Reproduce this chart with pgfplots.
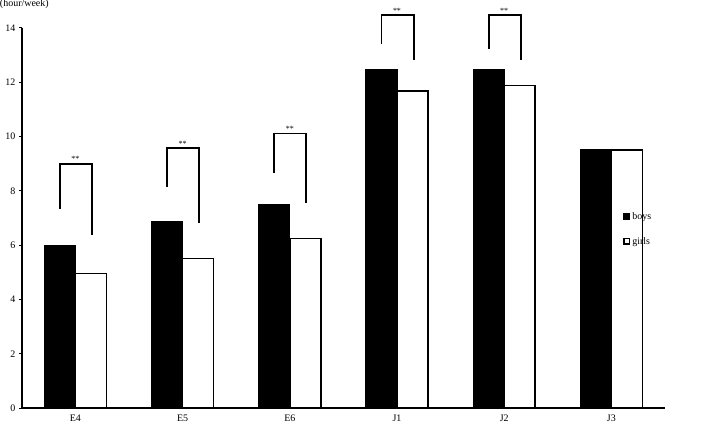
\documentclass[border=0pt]{standalone}
\usepackage{pgfplots}
\pgfplotsset{compat=1.18}
\usepackage{fontspec}
\setmainfont{Liberation Serif}

% weekly hours, boys vs girls, by grade
\pgfplotstableread{
x  boys   girls
0  6.00   4.95
1  6.88   5.50
2  7.51   6.25
3  12.47  11.67
4  12.47  11.88
5  9.52   9.50
}\hours

\begin{document}
\begin{tikzpicture}[font=\fontsize{10}{12}\selectfont]
\begin{axis}[
    name=ax,
    scale only axis,
    width=643bp, height=380bp,
    xmin=-0.5, xmax=5.5,
    ymin=0, ymax=14,
    axis x line*=bottom,
    axis y line*=left,
    axis line style={line width=1.7pt},
    ytick={0,2,...,14},
    xtick={0,...,5},
    xticklabels={E4,E5,E6,J1,J2,J3},
    x tick style={draw=none},
    y tick style={line width=1pt,black},
    tick align=outside,
    major tick length=3bp,
    clip=false,
    /pgf/number format/assume math mode=true,
    legend cell align=left,
    legend style={draw=none, fill=none, at={(0.935,0.47)}, anchor=west,
        row sep=12bp, inner sep=0pt},
    legend image code/.code={\draw[#1, line width=1.4pt] (0.7bp,-2.6bp) rectangle (6.3bp,3bp);},
]
\addplot[ybar, bar width=31bp, bar shift=-15.5bp, fill=black, draw=black, line width=1pt]
    table[x=x, y=boys] {\hours};
\addlegendentry{boys}
\addplot[ybar, bar width=31bp, bar shift=15.5bp, fill=white, draw=black, line width=1.5pt]
    table[x=x, y=girls] {\hours};
\addlegendentry{girls}

% significance brackets
\addplot[sharp plot, no marks, line width=1.9pt, forget plot] coordinates {(-0.145,7.34) (-0.145,9.0) (0.155,9.0) (0.155,6.38)};
\addplot[sharp plot, no marks, line width=1.9pt, forget plot] coordinates {(0.855,8.15) (0.855,9.58) (1.155,9.58) (1.155,6.82)};
\addplot[sharp plot, no marks, line width=1.9pt, forget plot] coordinates {(1.855,8.65) (1.855,10.11) (2.155,10.11) (2.155,7.55)};
\addplot[sharp plot, no marks, line width=1.9pt, forget plot] coordinates {(2.855,13.40) (2.855,14.47) (3.155,14.47) (3.155,12.82)};
\addplot[sharp plot, no marks, line width=1.9pt, forget plot] coordinates {(3.855,13.22) (3.855,14.47) (4.155,14.47) (4.155,12.83)};

\foreach \xx/\yy in {0/9.0, 1/9.58, 2/10.11, 3/14.47, 4/14.47} {
    \edef\tmp{\noexpand\node[anchor=south, font=\noexpand\fontsize{8}{9}\noexpand\selectfont, inner sep=1.5bp]
        at (axis cs:\xx,\yy) {**};}
    \tmp
}

\node[anchor=base west, inner sep=0pt] at ([xshift=-22bp, yshift=21bp]rel axis cs:0,1) {(hour/week)};
\end{axis}
\path (ax.south east) ++(43bp,-16bp);
\end{tikzpicture}
\end{document}
